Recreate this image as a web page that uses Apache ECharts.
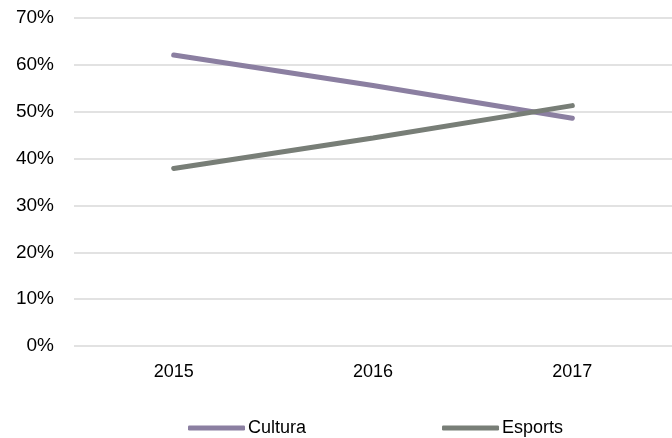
<!DOCTYPE html>
<html>
<head>
<meta charset="utf-8">
<script src="https://cdn.jsdelivr.net/npm/echarts@6/dist/echarts.min.js"></script>
<style>
  html, body { margin: 0; padding: 0; background: #fff; }
  #chart { width: 672px; height: 438px; }
</style>
</head>
<body>
<div id="chart"></div>
<script>
  // data
  const years = ['2015', '2016', '2017']
  const cultura = [62.1, 55.6, 48.6]
  const esports = [37.9, 44.4, 51.3]

  const chart = echarts.init(document.getElementById('chart'))
  const font = 'Liberation Sans, Arial, sans-serif'

  chart.setOption({
    animation: false,
    textStyle: { fontFamily: font },
    grid: { left: 74, top: 18, width: 600, height: 328 },
    legend: {
      top: 414,
      left: 183,
      itemWidth: 57,
      itemHeight: 5,
      itemGap: 136,
      icon: 'roundRect',
      textStyle: { fontSize: 18, color: '#000', fontFamily: font, padding: [0, 0, 0, -2] },
      data: ['Cultura', 'Esports']
    },
    xAxis: {
      type: 'category',
      data: years,
      boundaryGap: true,
      axisLine: { show: false },
      axisTick: { show: false },
      axisLabel: { fontSize: 18, color: '#000', margin: 17, fontFamily: font }
    },
    yAxis: {
      type: 'value',
      min: 0,
      max: 70,
      interval: 10,
      axisLine: { show: false },
      axisTick: { show: false },
      axisLabel: { fontSize: 19, color: '#000', margin: 20, formatter: '{value}%', fontFamily: font, padding: [3, 0, 0, 0] },
      splitLine: { lineStyle: { color: '#d9d9d9', width: 1.5 } }
    },
    series: [
      {
        name: 'Cultura',
        type: 'line',
        data: cultura,
        symbol: 'none',
        lineStyle: { color: '#8b7fa1', width: 5, cap: 'round' },
        itemStyle: { color: '#8b7fa1' }
      },
      {
        name: 'Esports',
        type: 'line',
        data: esports,
        symbol: 'none',
        lineStyle: { color: '#787e77', width: 5, cap: 'round' },
        itemStyle: { color: '#787e77' }
      }
    ]
  })
</script>
</body>
</html>
